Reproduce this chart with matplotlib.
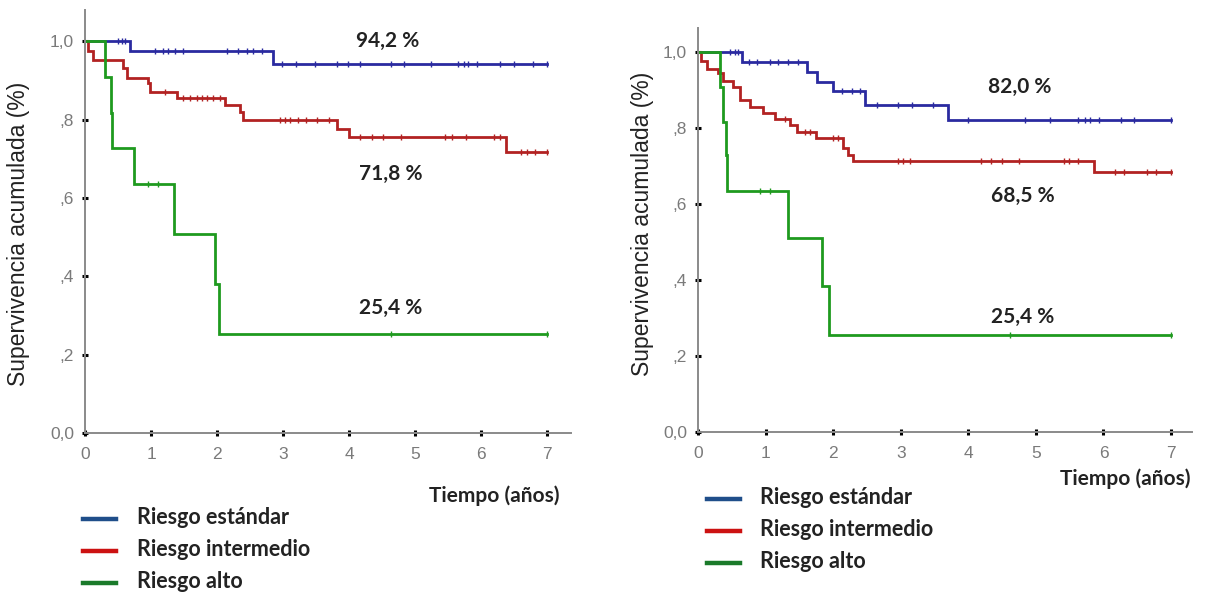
import numpy as np
import matplotlib
matplotlib.use('Agg')
import matplotlib.pyplot as plt

# ---- left panel: step times (years) and cumulative survival after each step ----
l_std_t = [0.0, 0.68, 2.85]
l_std_s = [1.0, 0.976, 0.942]
l_std_cens = [0.50, 0.56, 0.61, 1.06, 1.18, 1.26, 1.36, 1.48, 2.15, 2.32, 2.45, 2.55, 2.68,
              2.98, 3.20, 3.49, 3.81, 3.99, 4.16, 4.63, 4.83, 5.24, 5.65, 5.74, 5.80, 5.94,
              6.29, 6.50, 6.79, 7.0]

l_int_t = [0.0, 0.04, 0.12, 0.58, 0.63, 0.95, 0.98, 1.39, 2.12, 2.35, 2.40, 3.81, 4.0, 6.38]
l_int_s = [1.0, 0.976, 0.952, 0.931, 0.906, 0.893, 0.870, 0.855, 0.837, 0.819, 0.798,
           0.776, 0.755, 0.718]
l_int_cens = [1.21, 1.48, 1.59, 1.70, 1.77, 1.85, 1.94, 2.05, 2.95, 3.03, 3.11, 3.23, 3.35,
              3.52, 3.70, 4.16, 4.34, 4.52, 4.78, 5.45, 5.56, 5.77, 6.20, 6.29, 6.61, 6.70,
              6.81, 7.0]

l_alt_t = [0.0, 0.30, 0.39, 0.41, 0.74, 1.35, 1.97, 2.03]
l_alt_s = [1.0, 0.908, 0.816, 0.727, 0.637, 0.509, 0.380, 0.254]
l_alt_cens = [0.96, 1.11, 4.63, 7.0]

# ---- right panel ----
r_std_t = [0.0, 0.65, 1.61, 1.76, 2.0, 2.47, 3.70]
r_std_s = [1.0, 0.974, 0.948, 0.922, 0.896, 0.861, 0.820]
r_std_cens = [0.47, 0.55, 0.59, 0.75, 0.87, 1.07, 1.18, 1.33, 1.48, 2.13, 2.28, 2.40, 2.65,
              2.96, 3.17, 3.48, 3.99, 4.84, 5.21, 5.63, 5.72, 5.80, 5.94, 6.26, 6.45, 7.0]

r_int_t = [0.0, 0.04, 0.13, 0.30, 0.37, 0.52, 0.62, 0.77, 0.96, 1.14, 1.36, 1.46, 1.75,
           2.14, 2.22, 2.29, 5.86]
r_int_s = [1.0, 0.977, 0.955, 0.945, 0.924, 0.908, 0.874, 0.855, 0.840, 0.823, 0.808,
           0.789, 0.774, 0.747, 0.729, 0.713, 0.685]
r_int_cens = [1.29, 1.58, 1.66, 2.0, 2.07, 2.96, 3.03, 3.14, 4.19, 4.33, 4.50, 4.75, 5.41,
              5.49, 5.63, 6.17, 6.31, 6.65, 6.77, 7.0]

r_alt_t = [0.0, 0.32, 0.37, 0.41, 0.43, 1.33, 1.84, 1.94]
r_alt_s = [1.0, 0.908, 0.815, 0.729, 0.634, 0.510, 0.384, 0.254]
r_alt_cens = [0.92, 1.07, 4.61, 7.0]

groups = ['Riesgo estándar', 'Riesgo intermedio', 'Riesgo alto']
left_labels = ['94,2 %', '71,8 %', '25,4 %']
right_labels = ['82,0 %', '68,5 %', '25,4 %']
yticks = [0.0, 0.2, 0.4, 0.6, 0.8, 1.0]
ytick_labels = ['0,0', ',2', ',4', ',6', ',8', '1,0']
xticks = [0, 1, 2, 3, 4, 5, 6, 7]

curve_colors = ['#2a2aa0', '#b22222', '#1f9a1f']
legend_colors = ['#1f4e8a', '#cc1111', '#1a7a2a']
FONT = 'Lato'
AXFONT = 'Liberation Sans'


def km(ax, times, surv, cens, color):
    t = list(times) + [7.0]
    s = list(surv) + [surv[-1]]
    ax.step(t, s, where='post', color=color, lw=2.0, solid_joinstyle='miter')
    idx = np.searchsorted(times, cens, side='right') - 1
    ax.plot(cens, np.asarray(surv)[idx], ls='none', marker='|', ms=4.5, mew=1.0, color=color)


def style(ax, ytop, xright):
    ax.set_xlim(0, xright)
    ax.set_ylim(0, ytop)
    for side in ['top', 'right']:
        ax.spines[side].set_visible(False)
    for side in ['left', 'bottom']:
        ax.spines[side].set_color('#8a8a8a')
        ax.spines[side].set_linewidth(1.4)
    ax.set_yticks(yticks)
    ax.set_yticklabels(ytick_labels, family=AXFONT)
    ax.set_xticks(xticks)
    ax.set_xticklabels([str(x) for x in xticks], family=AXFONT)
    ax.tick_params(direction='inout', length=4, width=2.2, color='black',
                   labelcolor='#7a7a7a', labelsize=12.5)
    ax.tick_params(axis='y', pad=6)
    ax.tick_params(axis='x', pad=8)


fig = plt.figure(figsize=(12.1, 5.94), dpi=100)
ax1 = fig.add_axes([85 / 1210, 1 - 433 / 594, 486 / 1210, 423 / 594])
ax2 = fig.add_axes([698 / 1210, 1 - 432 / 594, 494 / 1210, 404 / 594])

left = [(l_std_t, l_std_s, l_std_cens), (l_int_t, l_int_s, l_int_cens), (l_alt_t, l_alt_s, l_alt_cens)]
right = [(r_std_t, r_std_s, r_std_cens), (r_int_t, r_int_s, r_int_cens), (r_alt_t, r_alt_s, r_alt_cens)]
for (t, s, c), col in zip(left, curve_colors):
    km(ax1, t, s, c, col)
for (t, s, c), col in zip(right, curve_colors):
    km(ax2, t, s, c, col)

style(ax1, 1.08, 7.36)
style(ax2, 1.063, 7.31)

# y-axis titles placed by centre
fig.text(19 / 1210, 1 - 234 / 594, 'Supervivencia acumulada (%)', rotation=90,
         ha='center', va='center', fontsize=16.5, color='#222222', family=AXFONT)
fig.text(642 / 1210, 1 - 224 / 594, 'Supervivencia acumulada (%)', rotation=90,
         ha='center', va='center', fontsize=16.5, color='#222222', family=AXFONT)

for lab, (x, y) in zip(left_labels, [(4.58, 1.0), (4.63, 0.662), (4.63, 0.319)]):
    ax1.text(x, y, lab, ha='center', va='center', fontsize=15, fontweight='bold',
             color='#222222', family=FONT)
for lab, (x, y) in zip(right_labels, [(4.76, 0.908), (4.81, 0.622), (4.81, 0.303)]):
    ax2.text(x, y, lab, ha='center', va='center', fontsize=15, fontweight='bold',
             color='#222222', family=FONT)

# "Tiempo (años)" and the legend blocks below each panel
fig.text(494 / 1210, 1 - 496 / 594, 'Tiempo (años)', ha='center', va='center',
         fontsize=15, fontweight='bold', color='#222222', family=FONT)
fig.text(1125 / 1210, 1 - 479 / 594, 'Tiempo (años)', ha='center', va='center',
         fontsize=15, fontweight='bold', color='#222222', family=FONT)

for x0, x1, xt, rows in [(83, 116, 137, [519, 551, 583]), (707, 740, 760, [499, 531, 563])]:
    for g, col, y in zip(groups, legend_colors, rows):
        fig.add_artist(plt.Line2D([x0 / 1210, x1 / 1210], [1 - y / 594, 1 - y / 594],
                                  color=col, lw=3.2, transform=fig.transFigure))
        fig.text(xt / 1210, 1 - (y - 2) / 594, g, ha='left', va='center', fontsize=15.5,
                 fontweight='bold', color='#222222', family=FONT)

fig.savefig('out.png', dpi=100)
